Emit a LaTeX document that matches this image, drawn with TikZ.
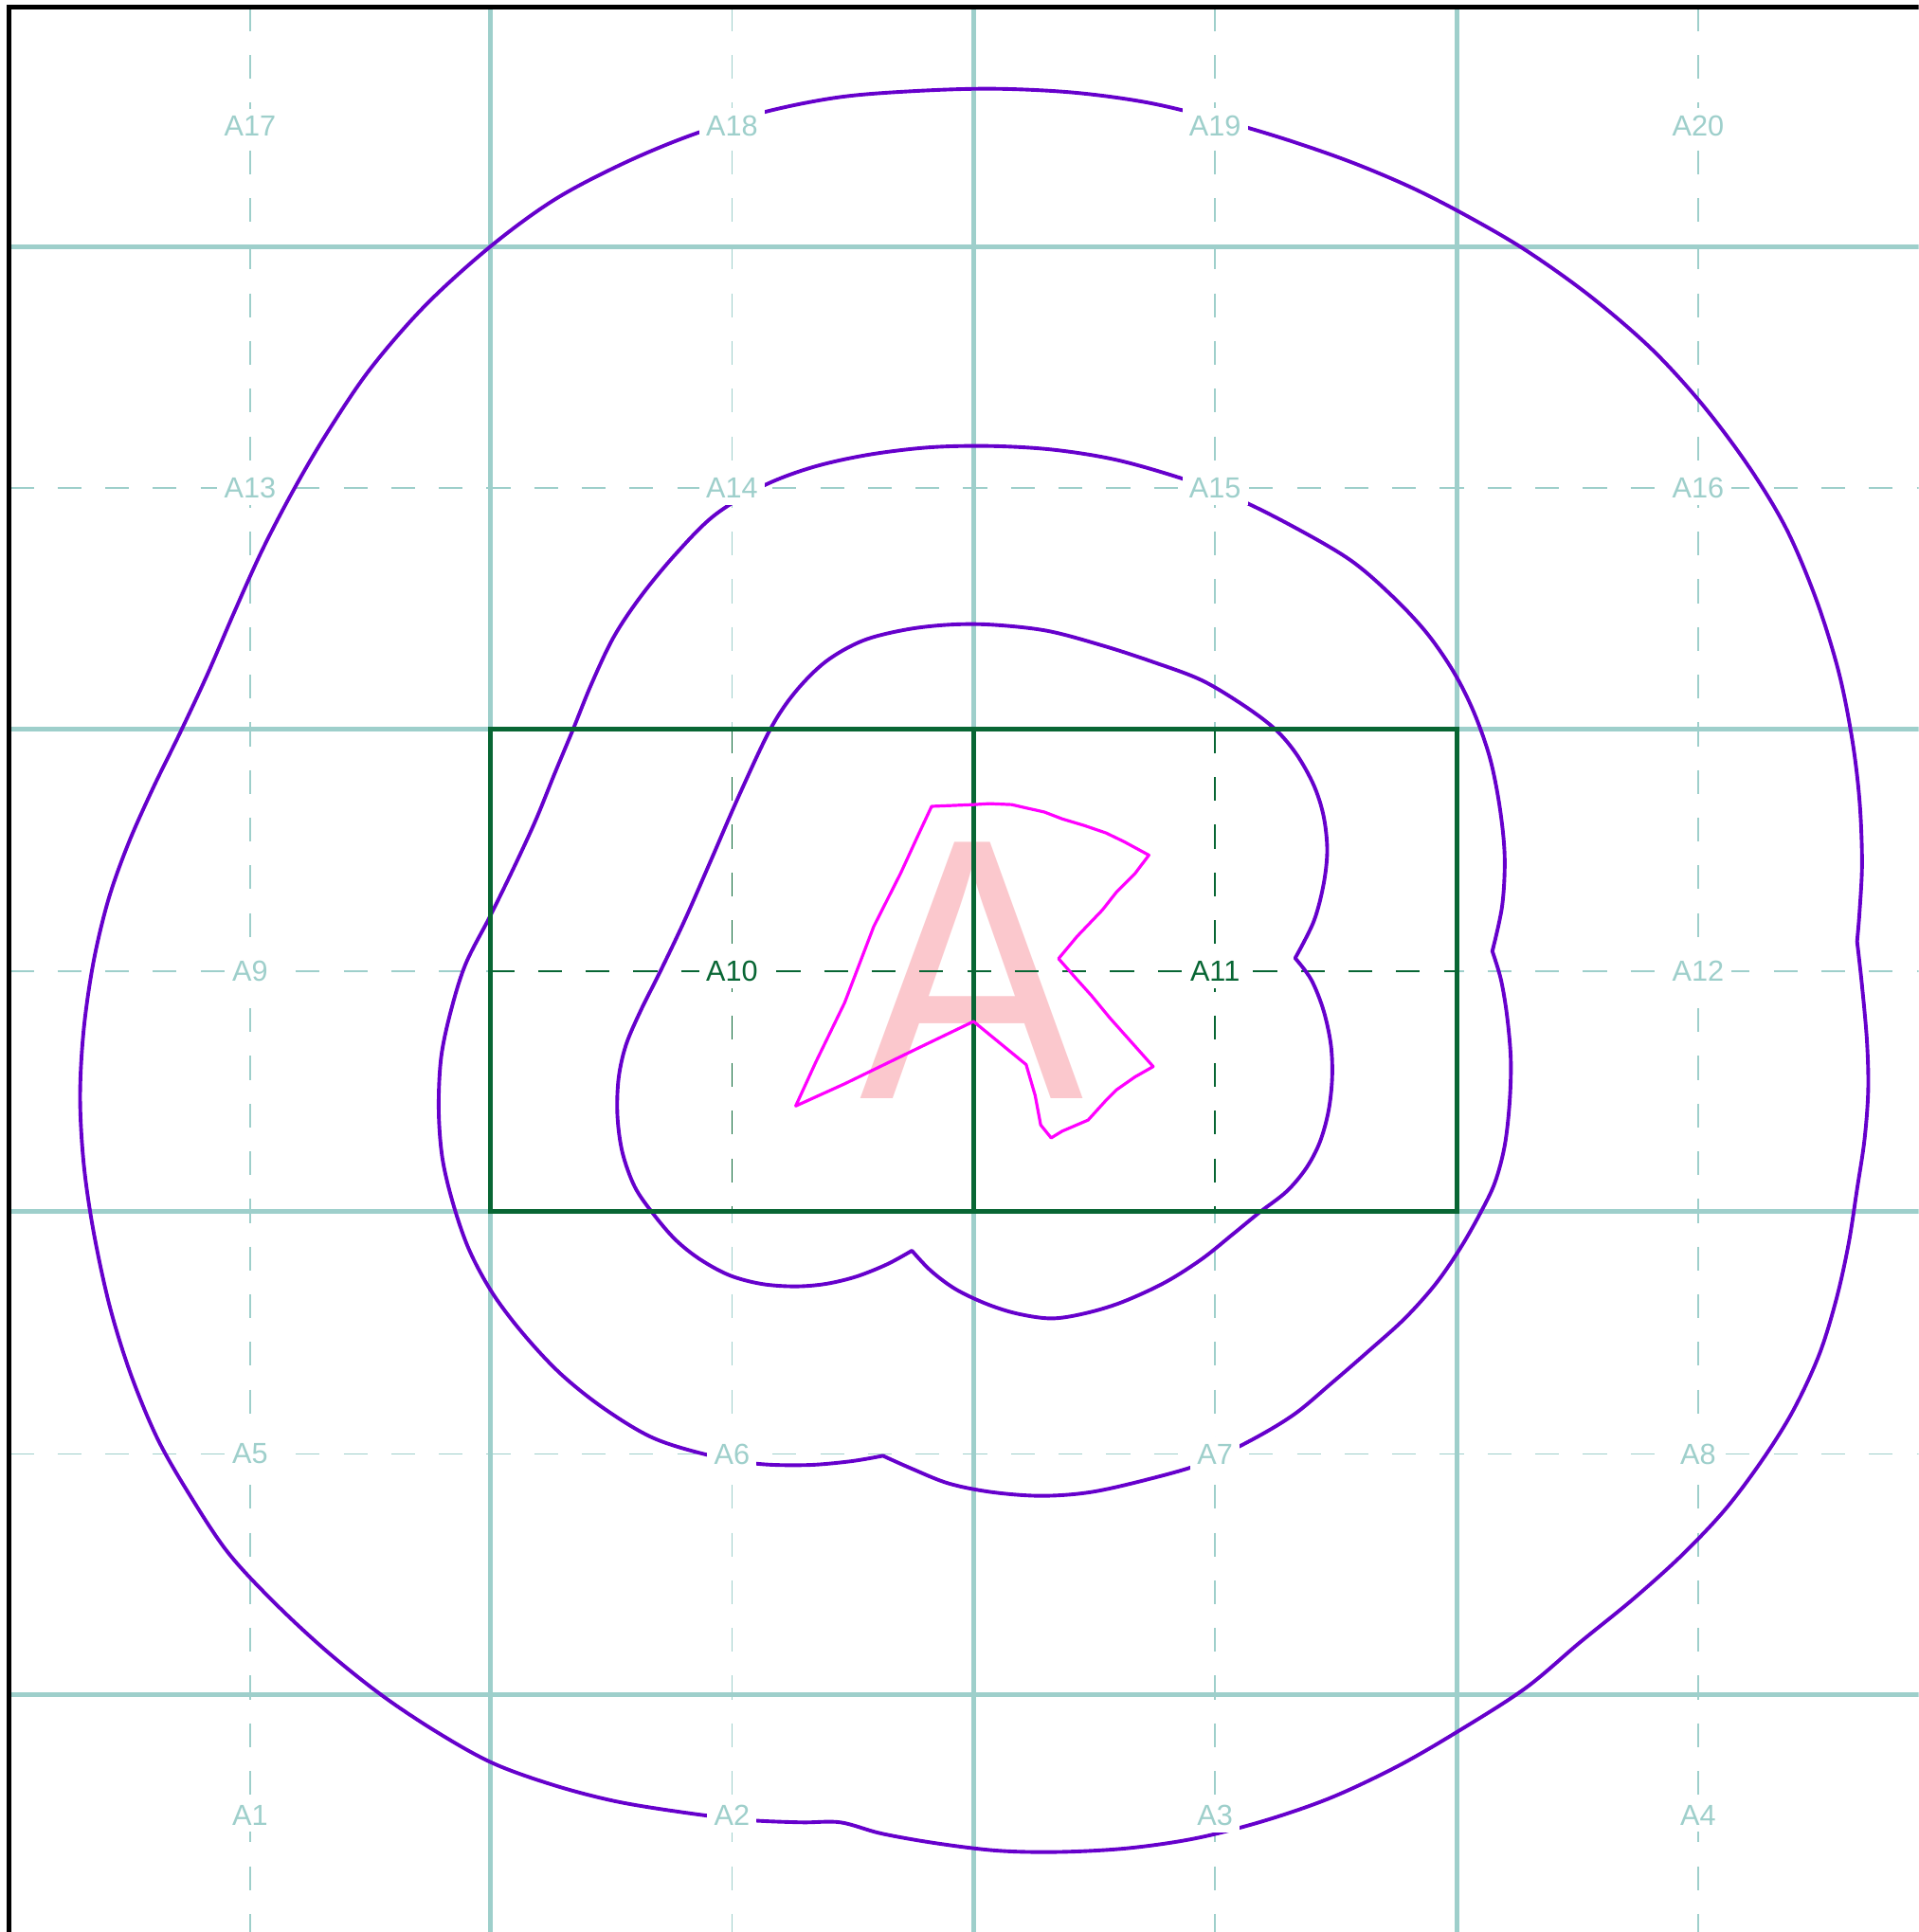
\documentclass[tikz,border=0pt]{standalone}
\usepackage{fontspec}
\setmainfont{Liberation Sans}
\definecolor{gridteal}{RGB}{158,207,203}
\definecolor{cellgreen}{RGB}{8,102,52}
\definecolor{contourpurple}{RGB}{102,0,204}
\definecolor{polymagenta}{RGB}{255,0,255}
\definecolor{pinkA}{RGB}{251,200,205}
\tikzset{
  gridsolid/.style={draw=gridteal, line width=1.1pt},
  griddash/.style={draw=gridteal, line width=0.35pt, dash pattern=on 5.5pt off 5.5pt},
  greendash/.style={draw=cellgreen, line width=0.4pt, dash pattern=on 5.5pt off 5.5pt},
  greenbox/.style={draw=cellgreen, line width=1.1pt},
  contour/.style={draw=contourpurple, line width=0.85pt, line join=round},
  areapoly/.style={draw=polymagenta, line width=0.7pt, line join=round},
  celllabel/.style={font=\fontsize{6.7}{8}\selectfont, text=gridteal, fill=white, inner sep=1.6pt},
  greenlabel/.style={font=\fontsize{6.7}{8}\selectfont, text=cellgreen, fill=white, inner sep=1.6pt}
}
\begin{document}
\begin{tikzpicture}[x=0.01cm, y=-0.01cm]
\useasboundingbox (0,0) rectangle (1557,1568);
\clip (0,0) rectangle (1557,1568);

% grid: solid lines
\foreach \gx in {398,790,1182} { \draw[gridsolid] (\gx,6) -- (\gx,1568); }
\foreach \gy in {200,592,983,1375} { \draw[gridsolid] (8,\gy) -- (1557,\gy); }
% grid: dashed centre lines
\foreach \gx in {203,594,986,1378} { \draw[griddash] (\gx,6) -- (\gx,1568); }
\foreach \gy in {396,788,1180} { \draw[griddash] (8,\gy) -- (1557,\gy); }

% highlighted cells A10, A11
\fill[white] (398,592) rectangle (1182,983);
\node[font=\fontsize{86}{86}\selectfont, text=pinkA, inner sep=0pt, anchor=base] (bigA) at (788.5,892) {\scalebox{0.9}[1]{A}};
\draw[greendash] (398,788) -- (1182,788);
\draw[greendash] (594,592) -- (594,983);
\draw[greendash] (986,592) -- (986,983);

% outer contour
\draw[contour] plot[smooth, tension=0.55] coordinates {
(1507,764) (1511,800) (1515,845) (1516,885) (1513,925) (1507,965) (1500,1010) (1490,1055) (1476,1100)
(1455,1145) (1430,1185) (1400,1225) (1365,1262) (1325,1298) (1282,1333) (1238,1370) (1185,1404)
(1135,1433) (1080,1459) (1025,1478) (970,1492) (915,1500) (860,1503) (810,1502) (760,1496) (715,1488)
(682,1479) (650,1479) (605,1477) (555,1471) (500,1462) (450,1449) (400,1431) (355,1406) (310,1376)
(265,1340) (222,1300) (185,1260) (155,1215) (128,1168) (106,1115) (89,1060) (76,1000) (68,945)
(65,890) (68,835) (76,780) (88,730) (104,685) (124,640) (146,595) (168,548) (190,497) (213,446)
(238,398) (265,352) (300,300) (345,248) (398,200) (450,162) (505,133) (560,110) (620,91) (680,79)
(740,74) (805,72) (870,75) (930,83) (985,96) (1040,112) (1095,131) (1145,152) (1190,175) (1238,203)
(1290,240) (1340,283) (1382,329) (1420,380) (1450,430) (1474,487) (1492,545) (1503,600) (1509,650)
(1511,700) (1509,740) (1507,764)};

% middle contour
\draw[contour] plot[smooth, tension=0.55] coordinates {
(1211,772) (1218,795) (1223,825) (1226,860) (1225,895) (1221,930) (1213,960) (1201,985) (1185,1013)
(1165,1042) (1140,1070) (1110,1097) (1080,1123) (1050,1148) (1015,1169) (975,1188) (930,1201)
(885,1211) (845,1214) (805,1211) (770,1204) (740,1192) (716.5,1181.5)}
 -- plot[smooth, tension=0.55] coordinates {
(716.5,1181.5) (690,1186) (655,1189) (615,1188) (575,1181) (530,1167) (490,1143) (455,1115)
(425,1083) (400,1050) (381,1015) (368,978) (359,940) (356,900) (358,858) (366,820) (378,782)
(398,743) (418,702) (435,665) (450,628) (465,592) (480,555) (498,517) (520,484) (548,450) (580,418)
(620,394) (660,379) (705,369) (755,363) (805,362) (855,365) (905,373) (955,387) (1000,403)
(1045,425) (1095,454) (1130,484) (1158,514) (1180,546) (1196,578) (1209,615) (1217,655) (1221,695)
(1219,735) (1211,772)} -- cycle;

% inner contour
\draw[contour] plot[smooth, tension=0.55] coordinates {
(1051,777.6) (1064,795) (1074,820) (1080,848) (1081,875) (1078,902) (1071,927) (1060,948) (1044,967)
(1022,984) (1000,1002) (975,1022) (945,1041) (910,1057) (880,1066) (853,1070) (825,1066) (800,1058)
(775,1046) (755,1031) (740,1015)}
 -- plot[smooth, tension=0.55] coordinates {
(740,1015) (720,1026) (695,1036) (670,1042) (645,1044) (618,1042) (592,1035) (568,1022) (548,1006)
(530,985) (515,963) (505,935) (501,905) (502,875) (508,848) (520,820) (536,788) (556,746) (577,698)
(600,645) (625,592) (645,562) (670,537) (700,520) (735,511) (770,507) (805,507) (850,512) (895,524)
(935,537) (975,552) (1010,573) (1035,592) (1052,612) (1066,637) (1074,662) (1077,690) (1074,718)
(1066,748) (1051,777.6)} -- cycle;

% highlighted cells frame
\draw[greenbox] (398,592) rectangle (1182,983);
\draw[greenbox] (790,592) -- (790,983);

% magenta polygon
\draw[areapoly] (756,654.4) -- (790,653) -- (803,652.2) -- (821,653) -- (832.7,655.7) -- (847.4,659)
 -- (862,664.6) -- (880,670) -- (897.5,676) -- (912,683) -- (932.3,694) -- (921,709) -- (906,724)
 -- (894.6,738.5) -- (874,760) -- (859,778) -- (874,795) -- (885.7,808) -- (900.5,826) -- (921,849)
 -- (935.8,865.6) -- (921,874) -- (906,884.5) -- (897.5,893) -- (883,909) -- (862,918) -- (853,923.5)
 -- (844.5,913) -- (840,889) -- (832.7,864) -- (790,829) -- (744.3,851) -- (685.4,879.6) -- (645.7,897.6)
 -- (662,862) -- (685.4,813.8) -- (709,752) -- (731,708.4) -- (744.3,679.4) -- cycle;

% border
\draw[line width=1.1pt] (7.5,1568) -- (7.5,6) -- (1557,6);

% labels
\node[celllabel] (A17) at (203,102) {A17};
\node[celllabel] (A18) at (594,102) {A18};
\node[celllabel] (A19) at (986,102) {A19};
\node[celllabel] (A20) at (1378,102) {A20};
\node[celllabel] (A13) at (203,396) {A13};
\node[celllabel] (A14) at (594,396) {A14};
\node[celllabel] (A15) at (986,396) {A15};
\node[celllabel] (A16) at (1378,396) {A16};
\node[celllabel] (A9) at (203,788) {A9};
\node[greenlabel] (A10) at (594,788) {A10};
\node[greenlabel] (A11) at (986,788) {A11};
\node[celllabel] (A12) at (1378,788) {A12};
\node[celllabel] (A5) at (203,1180) {A5};
\node[celllabel] (A6) at (594,1180) {A6};
\node[celllabel] (A7) at (986,1180) {A7};
\node[celllabel] (A8) at (1378,1180) {A8};
\node[celllabel] (A1) at (203,1473) {A1};
\node[celllabel] (A2) at (594,1473) {A2};
\node[celllabel] (A3) at (986,1473) {A3};
\node[celllabel] (A4) at (1378,1473) {A4};
\end{tikzpicture}
\end{document}
